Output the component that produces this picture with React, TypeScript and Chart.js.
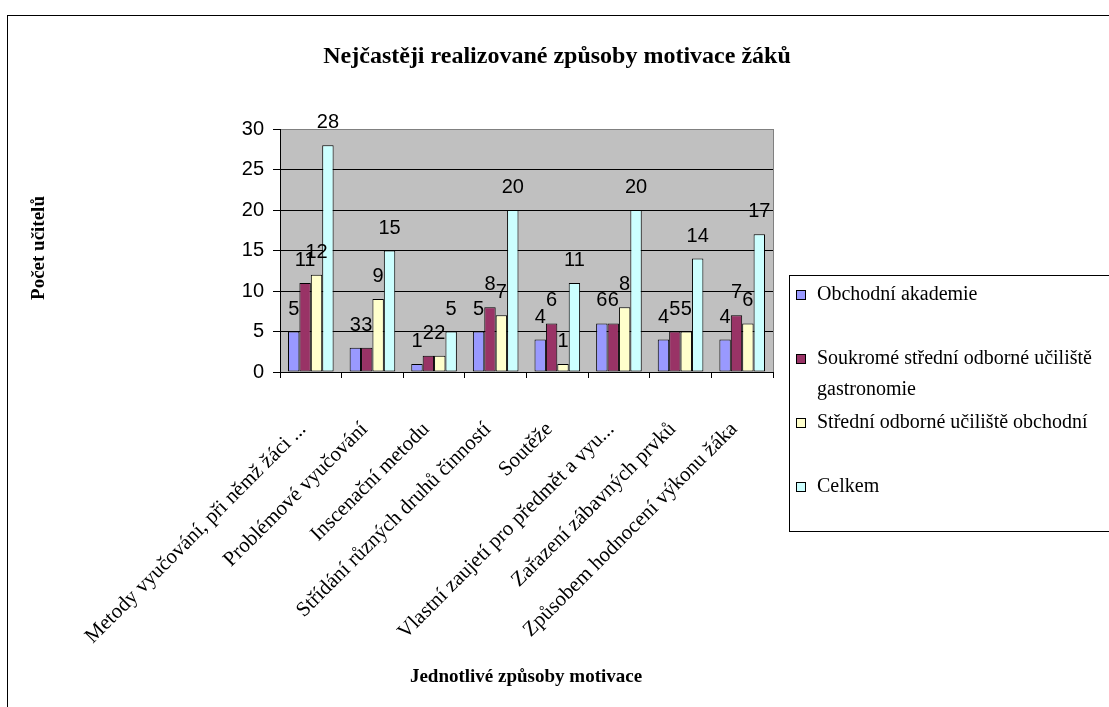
import { useEffect, useRef } from "react";
import { Chart, registerables } from "chart.js";

Chart.register(...registerables);

// Categories (ways of motivating pupils)
const categories = [
  "Metody vyučování, při němž žáci ...",
  "Problémové vyučování",
  "Inscenační metodu",
  "Střídání různých druhů činností",
  "Soutěže",
  "Vlastní zaujetí pro předmět a vyu...",
  "Zařazení zábavných prvků",
  "Způsobem hodnocení výkonu žáka",
];

// Series names
const seriesNames = [
  "Obchodní akademie",
  "Soukromé střední odborné učiliště gastronomie",
  "Střední odborné učiliště obchodní",
  "Celkem",
];

// Number of teachers per school
const obchodniAkademie = [5, 3, 1, 5, 4, 6, 4, 4];
const soukromeSou = [11, 3, 2, 8, 6, 6, 5, 7];
const souObchodni = [12, 9, 2, 7, 1, 8, 5, 6];
const celkem = [28, 15, 5, 20, 11, 20, 14, 17];

const seriesColors = ["#9999FF", "#993366", "#FFFFCC", "#CCFFFF"];

const chartTitle = "Nejčastěji realizované způsoby motivace žáků";
const xTitle = "Jednotlivé způsoby motivace";
const yTitle = "Počet učitelů";

const W = 1109;
const H = 707;

const SERIF = '"Liberation Serif", "Times New Roman", serif';
const SANS = '"Liberation Sans", Arial, sans-serif';

const decorations = {
  id: "decorations",
  beforeDraw(chart: any) {
    const { ctx, chartArea } = chart;
    ctx.save();
    ctx.fillStyle = "#FFFFFF";
    ctx.fillRect(0, 0, chart.width, chart.height);
    ctx.fillStyle = "#C0C0C0";
    ctx.fillRect(
      chartArea.left,
      chartArea.top,
      chartArea.right - chartArea.left,
      chartArea.bottom - chartArea.top
    );
    ctx.restore();
  },
  afterDatasetsDraw(chart: any) {
    const { ctx } = chart;
    // value labels above each bar
    ctx.save();
    ctx.fillStyle = "#000";
    ctx.font = `20px ${SANS}`;
    ctx.textAlign = "center";
    ctx.textBaseline = "alphabetic";
    chart.data.datasets.forEach((ds: any, di: number) => {
      const meta = chart.getDatasetMeta(di);
      meta.data.forEach((el: any, i: number) => {
        ctx.fillText(String(ds.data[i]), el.x, el.y - 17);
      });
    });
    ctx.restore();
  },
  afterDraw(chart: any) {
    const { ctx, chartArea } = chart;
    const xScale = chart.scales.x;
    ctx.save();

    // grey right edge of the plot area
    ctx.strokeStyle = "#808080";
    ctx.lineWidth = 1;
    ctx.beginPath();
    ctx.moveTo(Math.round(chartArea.right) + 0.5, chartArea.top);
    ctx.lineTo(Math.round(chartArea.right) + 0.5, chartArea.bottom);
    ctx.stroke();

    // outer chart frame
    ctx.strokeStyle = "#000";
    ctx.lineWidth = 1;
    ctx.strokeRect(7.5, 15.5, chart.width + 20, chart.height + 20);

    // title
    ctx.fillStyle = "#000";
    ctx.font = `bold 24px ${SERIF}`;
    ctx.textAlign = "center";
    ctx.textBaseline = "alphabetic";
    ctx.fillText(chartTitle, 557, 63);

    // x axis title
    ctx.font = `bold 19px ${SERIF}`;
    ctx.textBaseline = "middle";
    ctx.fillText(xTitle, 526, 677);

    // y axis title
    ctx.save();
    ctx.translate(39, 248);
    ctx.rotate(-Math.PI / 2);
    ctx.fillText(yTitle, 0, 0);
    ctx.restore();

    // rotated category labels
    ctx.font = `21px ${SERIF}`;
    ctx.textAlign = "right";
    ctx.textBaseline = "alphabetic";
    categories.forEach((label, i) => {
      const x = xScale.getPixelForValue(i);
      ctx.save();
      ctx.translate(x - 4, chartArea.bottom + 58);
      ctx.rotate(-Math.PI / 4);
      ctx.fillText(label, 0, 0);
      ctx.restore();
    });

    // legend
    const boxLeft = 789.5;
    const boxTop = 275.5;
    const boxBottom = 531.5;
    ctx.strokeStyle = "#000";
    ctx.strokeRect(boxLeft, boxTop, chart.width, boxBottom - boxTop);
    ctx.font = `20px ${SERIF}`;
    ctx.textAlign = "left";
    ctx.textBaseline = "middle";
    const maxTextWidth = 320;
    chart.data.datasets.forEach((ds: any, di: number) => {
      const cy = 295 + di * 64;
      ctx.fillStyle = ds.backgroundColor;
      ctx.fillRect(796.5, cy - 4.5, 9, 9);
      ctx.strokeStyle = "#000";
      ctx.strokeRect(796.5, cy - 4.5, 9, 9);
      // wrap long names
      const words = String(ds.label).split(" ");
      const lines: string[] = [];
      let cur = "";
      words.forEach((w) => {
        const test = cur ? cur + " " + w : w;
        if (ctx.measureText(test).width > maxTextWidth && cur) {
          lines.push(cur);
          cur = w;
        } else {
          cur = test;
        }
      });
      if (cur) lines.push(cur);
      ctx.fillStyle = "#000";
      lines.forEach((ln, li) => {
        ctx.fillText(ln, 817, cy + li * 31);
      });
    });

    ctx.restore();
  },
};

export default function App() {
  const canvasRef = useRef<HTMLCanvasElement | null>(null);

  useEffect(() => {
    if (!canvasRef.current) return;
    const values = [obchodniAkademie, soukromeSou, souObchodni, celkem];
    const chart = new Chart(canvasRef.current, {
      type: "bar",
      data: {
        labels: categories,
        datasets: seriesNames.map((name, i) => ({
          label: name,
          data: values[i],
          backgroundColor: seriesColors[i],
          borderColor: "#000",
          borderWidth: 1,
          borderSkipped: false,
          barPercentage: 1,
          categoryPercentage: 0.74,
        })),
      },
      options: {
        responsive: false,
        animation: false,
        devicePixelRatio: 1,
        layout: { padding: { top: 129, left: 240, right: 336, bottom: 305 } },
        plugins: {
          legend: { display: false },
          title: { display: false },
          tooltip: { enabled: false },
        },
        scales: {
          x: {
            grid: {
              display: true,
              drawOnChartArea: false,
              drawTicks: true,
              tickLength: 6,
              color: "#000",
              offset: true,
            },
            border: { display: true, color: "#000", width: 1 },
            ticks: { display: false },
            afterFit: (s: any) => {
              s.height = 30;
            },
          },
          y: {
            min: 0,
            max: 30,
            ticks: {
              stepSize: 5,
              color: "#000",
              padding: 9,
              font: { family: SANS, size: 20 },
            },
            grid: {
              color: (c: any) =>
                c.tick && c.tick.value === 30 ? "#808080" : "#000",
              tickColor: "#000",
              tickLength: 7,
            },
            border: { display: true, color: "#000", width: 1 },
            afterFit: (s: any) => {
              s.width = 40;
            },
          },
        },
      },
      plugins: [decorations],
    });
    return () => chart.destroy();
  }, []);

  return (
    <div style={{ position: "absolute", left: 0, top: 0, width: W, height: H }}>
      <canvas
        ref={canvasRef}
        width={W}
        height={H}
        style={{ display: "block", width: W, height: H }}
      />
    </div>
  );
}
